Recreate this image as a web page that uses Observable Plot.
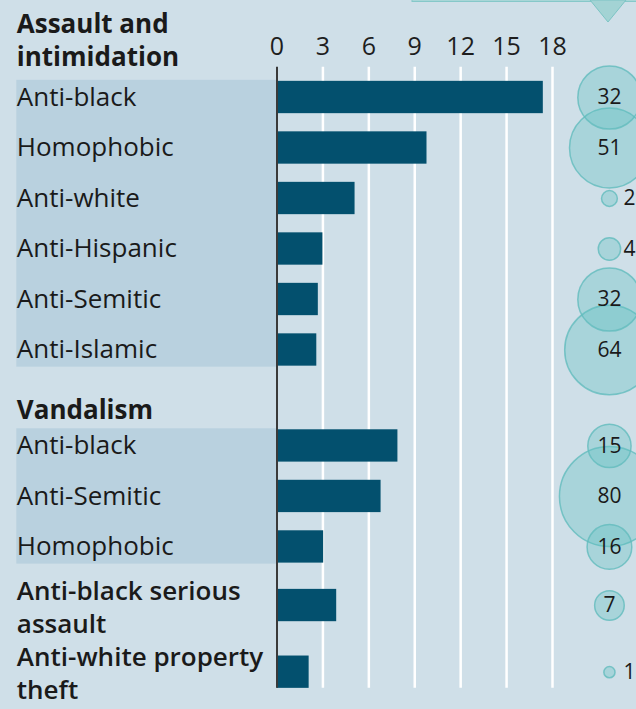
<!DOCTYPE html>
<html>
<head>
<meta charset="utf-8">
<script src="https://cdn.jsdelivr.net/npm/d3@7"></script>
<script src="https://cdn.jsdelivr.net/npm/@observablehq/plot@0.6"></script>
<style>
  html, body { margin: 0; padding: 0; background: #cfdfe8; }
  #wrap { position: relative; width: 636px; height: 709px; overflow: hidden; background: #cfdfe8; }
  #deco { position: absolute; left: 0; top: 0; }
</style>
</head>
<body>
<div id="wrap">
  <div id="chart"></div>
  <svg id="deco" width="636" height="30">
    <rect x="412" y="-2" width="230" height="3.5" fill="#a8d6d7" stroke="#86c8c9" stroke-width="1"></rect>
    <polygon points="590,0 626,0 608,22" fill="#a3d3d4" stroke="#7cc4c4" stroke-width="1"></polygon>
  </svg>
</div>
<script>
// ---- data ----
const groupNames = ["Assault and\nintimidation", "Vandalism", "Anti-black serious\nassault", "Anti-white property\ntheft"];
const rowGroup = [0, 0, 0, 0, 0, 0, 1, 1, 1, 2, 3];
const rowLabels = ["Anti-black", "Homophobic", "Anti-white", "Anti-Hispanic", "Anti-Semitic", "Anti-Islamic",
                   "Anti-black", "Anti-Semitic", "Homophobic",
                   "Anti-black serious\nassault", "Anti-white property\ntheft"];
const values = [17.4, 9.8, 5.1, 3.0, 2.7, 2.6, 7.9, 6.8, 3.05, 3.9, 2.1];
const counts = [32, 51, 2, 4, 32, 64, 15, 80, 16, 7, 1];
const ticks = [0, 3, 6, 9, 12, 15, 18];

// ---- layout (row units) ----
const lines = s => s.split("\n").length;
const rows = [];
const headers = [];
const bands = [];
let prevBottom = null;
groupNames.forEach((g, gi) => {
  const idx = rowGroup.map((d, i) => d === gi ? i : -1).filter(i => i >= 0);
  const multi = idx.length > 1;
  if (multi) {
    const first = prevBottom === null ? 0 : prevBottom + 0.9 + 0.5;
    idx.forEach((i, k) => rows.push({label: rowLabels[i], value: values[i], count: counts[i], pos: first + k, sub: true}));
    const last = first + idx.length - 1;
    headers.push({label: g, pos: first - 0.75 - 0.41 * (lines(g) - 1)});
    bands.push({y1: first - 0.34, y2: last + 0.34});
    prevBottom = last + 0.5;
  } else {
    const i = idx[0];
    const half = lines(rowLabels[i]) > 1 ? 0.66 : 0.5;
    const pos = prevBottom + half;
    rows.push({label: rowLabels[i], value: values[i], count: counts[i], pos, sub: false});
    prevBottom = pos + half;
  }
});
const lastPos = rows[rows.length - 1].pos;
const labelX = -17;     // label column (x units, left of zero)
const bubbleX = 21.72;  // bubble column (x units)

const chart = Plot.plot({
  width: 636,
  height: 709,
  margin: 0,
  style: {background: "transparent", fontFamily: "'Open Sans', sans-serif"},
  x: {domain: [0, 18], range: [276.5, 552], axis: null},
  y: {domain: [0, 1], range: [97, 147.5], axis: null},
  r: {type: "sqrt", domain: [0, 80], range: [0, 50]},
  marks: [
    Plot.rect(bands, {x1: labelX, x2: 0, y1: "y1", y2: "y2", fill: "#b9d1df"}),
    Plot.ruleX(ticks.filter(t => t > 0), {y1: -0.6, y2: lastPos + 0.32, stroke: "#ffffff", strokeWidth: 2.5}),
    Plot.rect(rows, {x1: 0, x2: "value", y1: d => d.pos - 0.32, y2: d => d.pos + 0.32, fill: "#03506e"}),
    Plot.ruleX([0], {y1: -0.6, y2: lastPos + 0.32, stroke: "#3a3a3a", strokeWidth: 2}),
    Plot.text(ticks, {x: d => d, y: -1, text: d => String(d), fontSize: 25, fill: "#1e1e1e"}),
    Plot.text(headers, {x: labelX, y: "pos", text: "label", textAnchor: "start", fontSize: 26, fontWeight: 700, lineHeight: 1.27, fill: "#1a1a1a"}),
    Plot.text(rows.filter(d => d.sub), {x: labelX, y: "pos", text: "label", textAnchor: "start", fontSize: 26, fill: "#1a1a1a"}),
    Plot.text(rows.filter(d => !d.sub), {x: labelX, y: "pos", text: "label", textAnchor: "start", fontSize: 26, fontWeight: 600, lineHeight: 1.27, fill: "#1a1a1a"}),
    Plot.dot(rows, {x: bubbleX, y: "pos", r: "count", fill: "#5fbfbf", fillOpacity: 0.35, stroke: "#62bcbd", strokeOpacity: 0.8, strokeWidth: 1.5}),
    Plot.text(rows.filter(d => d.count >= 5), {x: bubbleX, y: "pos", text: d => String(d.count), fontSize: 21, fill: "#1a1a1a"}),
    Plot.text(rows.filter(d => d.count < 5), {x: bubbleX, y: "pos", text: d => String(d.count), dx: 14, textAnchor: "start", fontSize: 21, fill: "#1a1a1a"})
  ]
});
document.getElementById("chart").appendChild(chart);
</script>
</body>
</html>
